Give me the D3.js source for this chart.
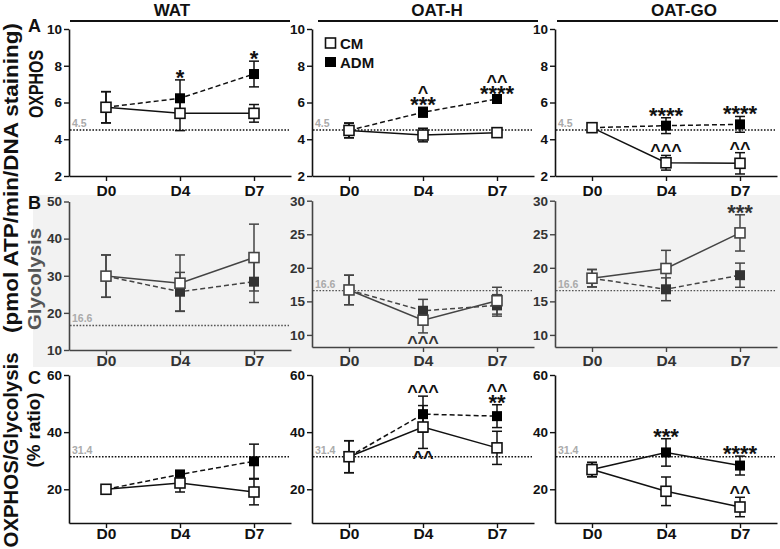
<!DOCTYPE html>
<html><head><meta charset="utf-8">
<script src="https://cdn.jsdelivr.net/npm/d3@7"></script>
<style>
body{margin:0;background:#fff}
svg{display:block;font-family:"Liberation Sans",Arial,sans-serif;font-weight:bold}
</style>
</head><body><svg id="c" width="780" height="549"></svg>
<script>
// ---------- data ----------
const days = ["D0","D4","D7"];
const groups = ["WAT","OAT-H","OAT-GO"];
const seriesNames = ["CM","ADM"];

// OXPHOS (rows = WAT, OAT-H, OAT-GO ; cols = D0, D4, D7)
const oxphosCM     = [[5.74,5.41,5.41],[4.48,4.23,4.36],[4.63,2.72,2.69]];
const oxphosCMerr  = [[0.85,0.94,0.48],[0.40,0.37,0.20],[0.15,0.40,0.58]];
const oxphosADM    = [[5.74,6.23,7.55],[4.48,5.47,6.19],[4.63,4.74,4.81]];
const oxphosADMerr = [[0.85,1.00,0.70],[0.40,0.27,0.17],[0.15,0.43,0.43]];

// Glycolysis
const glycoCM     = [[29.9,28.0,34.9],[16.7,12.2,15.1],[18.45,19.9,25.2]];
const glycoCMerr  = [[5.7,7.6,9.0],[2.2,1.9,2.0],[1.3,2.7,2.7]];
const glycoADM    = [[29.9,25.7,28.4],[16.7,13.6,14.4],[18.45,16.8,18.9]];
const glycoADMerr = [[5.7,5.2,5.6],[2.2,1.7,1.6],[1.3,1.7,1.8]];

// OXPHOS/Glycolysis (% ratio)
const ratioCM     = [[20.0,22.2,19.05],[31.4,41.8,34.5],[26.9,19.3,13.8]];
const ratioCMerr  = [[1.0,3.15,4.5],[5.6,7.5,5.8],[2.5,5.0,3.4]];
const ratioADM    = [[20.0,25.2,29.8],[31.4,46.3,45.6],[26.9,32.9,28.3]];
const ratioADMerr = [[1.0,1.0,6.0],[5.6,6.3,4.0],[2.5,4.8,3.3]];

// axes
const ticksOxphos = [2,4,6,8,10];
const ticksGlycoWAT = [10,20,30,40,50];
const ticksGlyco = [10,15,20,25,30];
const ticksRatio = [20,40,60];
const refValues = [4.5, 16.6, 31.4];
const refLabels = ["4.5","16.6","31.4"];
const rowLetters = ["A","B","C"];

// significance marks: [row, group, day, series, side, texts (nearest first)]
const annotations = [
  [0,0,1,"ADM","above",["*"]],
  [0,0,2,"ADM","above",["*"]],
  [0,1,1,"ADM","above",["***","^"]],
  [0,1,2,"ADM","above",["****","^^"]],
  [0,2,1,"ADM","above",["****"]],
  [0,2,2,"ADM","above",["****"]],
  [0,2,1,"CM","above",["^^^"]],
  [0,2,2,"CM","above",["^^"]],
  [1,1,1,"CM","below",["^^^"]],
  [1,2,2,"CM","above",["***"]],
  [2,1,1,"ADM","above",["^^^"]],
  [2,1,1,"CM","below",["^^"]],
  [2,1,2,"ADM","above",["**","^^"]],
  [2,2,1,"ADM","above",["***"]],
  [2,2,2,"ADM","above",["****"]],
  [2,2,2,"CM","above",["^^"]]
];

// ---------- drawing ----------
const rowsData = [
  {cm:oxphosCM, cmErr:oxphosCMerr, adm:oxphosADM, admErr:oxphosADMerr},
  {cm:glycoCM, cmErr:glycoCMerr, adm:glycoADM, admErr:glycoADMerr},
  {cm:ratioCM, cmErr:ratioCMerr, adm:ratioADM, admErr:ratioADMerr}
];
const svg = d3.select("#c");

// grey band behind row B
svg.append("rect").attr("x",33).attr("y",195).attr("width",747).attr("height",172).attr("fill","#f2f2f2");

const X0 = [69,312,555], PW = 222;
const labelBaseline = [196, 366, 539];
const rowColor = ["#111","#444","#111"];

function yDomain(r,g){ if(r===0) return [2,10]; if(r===1) return g===0?[10,50]:[8.2,30]; return [8.2,60]; }
function yRange(r,g){ if(r===0) return [176,29]; if(r===1) return g===0?[350,201.5]:[347,200.7]; return [523,375]; }
function yTicks(r,g){ if(r===0) return ticksOxphos; if(r===1) return g===0?ticksGlycoWAT:ticksGlyco; return ticksRatio; }

const scales = {};

for (let r=0;r<3;r++){
  const col = rowColor[r];
  for (let g=0; g<3; g++){
    const x = d3.scalePoint().domain(days).range([X0[g], X0[g]+PW]).padding(0.5);
    const y = d3.scaleLinear().domain(yDomain(r,g)).range(yRange(r,g));
    scales[r+"_"+g] = {x,y};
    const G = svg.append("g");

    // y axis
    const ya = G.append("g").attr("transform",`translate(${X0[g]},0)`)
      .call(d3.axisLeft(y).tickValues(yTicks(r,g)).tickSize(5).tickSizeOuter(0).tickPadding(2).tickFormat(d3.format("d")));
    ya.select(".domain").attr("stroke",col).attr("stroke-width",1.6);
    ya.selectAll(".tick line").attr("stroke",col).attr("stroke-width",1.4);
    ya.selectAll("text").attr("fill",r===1?"#333":"#111").attr("font-size",13.5).attr("font-family","Liberation Sans, Arial, sans-serif").attr("font-weight","bold");

    // x axis
    const axY = yRange(r,g)[0];
    const xa = G.append("g").attr("transform",`translate(0,${axY})`)
      .call(d3.axisBottom(x).tickSize(5).tickSizeOuter(0));
    xa.select(".domain").attr("stroke",col).attr("stroke-width",1.6);
    xa.selectAll(".tick line").attr("stroke",col).attr("stroke-width",1.4);
    xa.selectAll("text").attr("fill",r===1?"#333":"#111").attr("font-size",15.5)
      .attr("font-family","Liberation Sans, Arial, sans-serif").attr("font-weight","bold")
      .attr("dy",null).attr("y",labelBaseline[r]-axY);

    // reference line
    const ry = y(refValues[r]);
    G.append("line").attr("x1",X0[g]+1).attr("x2",X0[g]+PW-2).attr("y1",ry).attr("y2",ry)
      .attr("stroke",r===1?"#555":"#111").attr("stroke-width",1.4).attr("stroke-dasharray","1.6,1.6");
    G.append("text").attr("x",X0[g]+3).attr("y",ry-3).attr("font-size",10.5).attr("fill","#aaa").text(refLabels[r]);

    const D = rowsData[r];
    const sets = [
      {name:"ADM", v:D.adm[g], e:D.admErr[g]},
      {name:"CM", v:D.cm[g], e:D.cmErr[g]}
    ];
    // error bars
    sets.forEach(s=>{
      days.forEach((d,i)=>{
        const cx = x(d), y1 = y(s.v[i]+s.e[i]), y2 = y(s.v[i]-s.e[i]);
        G.append("line").attr("x1",cx).attr("x2",cx).attr("y1",y1).attr("y2",y2).attr("stroke",col).attr("stroke-width",1.5);
        [y1,y2].forEach(yy=>G.append("line").attr("x1",cx-5).attr("x2",cx+5).attr("y1",yy).attr("y2",yy).attr("stroke",col).attr("stroke-width",1.5));
      });
    });
    // lines
    sets.forEach(s=>{
      const line = d3.line().x((v,i)=>x(days[i])).y(v=>y(v));
      const dashed = s.name==="ADM" && !(r===2 && g===2);
      G.append("path").attr("d",line(s.v)).attr("fill","none").attr("stroke",col).attr("stroke-width",1.5)
        .attr("stroke-dasharray",dashed?"5,3":null);
    });
    // markers
    sets.forEach(s=>{
      days.forEach((d,i)=>{
        const cx=x(d), cy=y(s.v[i]);
        if (s.name==="ADM"){
          G.append("rect").attr("x",cx-5).attr("y",cy-5).attr("width",10).attr("height",10).attr("fill",r===1?"#333":"#000");
        } else {
          G.append("rect").attr("x",cx-5).attr("y",cy-5).attr("width",10).attr("height",10).attr("fill","#fff")
            .attr("stroke",col).attr("stroke-width",1.6);
        }
      });
    });
  }
}

// annotations (stacked marks share one text element)
annotations.forEach(a=>{
  const [r,g,di,ser,side,texts] = a;
  const {x,y} = scales[r+"_"+g];
  const D = rowsData[r];
  const v = ser==="CM"?D.cm[g][di]:D.adm[g][di];
  const e = ser==="CM"?D.cmErr[g][di]:D.admErr[g][di];
  let cur = side==="above" ? y(v+e)-4 : y(v-e)+3;
  const T = svg.append("text").attr("text-anchor","middle").attr("fill",r===1?"#333":"#111");
  texts.forEach(t=>{
    const star = t[0]==="*";
    const fs = star?22:18;
    const topO = 0.72*fs, botO = star?0.40*fs:0.33*fs;
    let base;
    if (side==="above"){ base = cur + botO; cur = base - topO - 3; }
    else { base = cur + topO; cur = base - botO + 3; }
    T.append("tspan").attr("x",x(days[di])).attr("y",base).attr("font-size",fs).text(t);
  });
});

// titles
const titleCx = [172,437,684];
const lineX = [[70,290],[318,538],[557,778]];
groups.forEach((gname,g)=>{
  svg.append("text").attr("x",titleCx[g]).attr("y",15.5).attr("text-anchor","middle").attr("font-size",17).attr("fill","#111").text(gname);
  svg.append("line").attr("x1",lineX[g][0]).attr("x2",lineX[g][1]).attr("y1",21).attr("y2",21).attr("stroke","#111").attr("stroke-width",2);
});

// panel letters
[32,209,384].forEach((yy,i)=>svg.append("text").attr("x",28).attr("y",yy).attr("font-size",18).attr("fill","#111").text(rowLetters[i]));

// legend
const lg = svg.append("g");
lg.append("rect").attr("x",325.5).attr("y",38).attr("width",10).attr("height",10).attr("fill","#fff").attr("stroke","#111").attr("stroke-width",1.6);
lg.append("text").attr("x",340).attr("y",48.5).attr("font-size",15).attr("fill","#111").text(seriesNames[0]);
lg.append("rect").attr("x",325).attr("y",57).attr("width",11).attr("height",10).attr("fill","#000");
lg.append("text").attr("x",340).attr("y",67.5).attr("font-size",15).attr("fill","#111").text(seriesNames[1]);

// rotated axis titles
function vText(txt,bx,cy,fs,len,fill){
  svg.append("text").attr("transform",`translate(${bx},${cy}) rotate(-90)`).attr("text-anchor","middle")
    .attr("font-size",fs).attr("fill",fill||"#111").attr("textLength",len).attr("lengthAdjust","spacingAndGlyphs").text(txt);
}
vText("(pmol ATP/min/DNA staining)",18,178,21,310);
vText("OXPHOS",43,84,20,68);
vText("Glycolysis",41,279,18,102,"#555");
vText("OXPHOS/Glycolysis",18,450,20,195);
vText("(% ratio)",40,430,18,75);
</script>
</body></html>
